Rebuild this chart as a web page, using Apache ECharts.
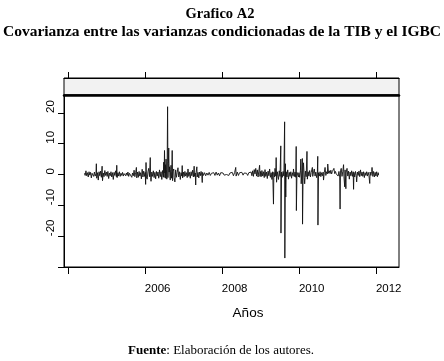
<!DOCTYPE html>
<html>
<head>
<meta charset="utf-8">
<script src="https://cdn.jsdelivr.net/npm/echarts@6/dist/echarts.min.js"></script>
<style>
  html, body { margin: 0; padding: 0; background: #fff; }
  #chart { width: 444px; height: 361px; }
</style>
</head>
<body>
<div id="chart"></div>
<script>
// covarianza condicionada TIB / IGBC (anio decimal, valor)
const datos2004 = [[2004.43,0.4],[2004.45,-0.3],[2004.47,1.2],[2004.49,-0.4],[2004.51,0.6],[2004.53,-0.8],[2004.55,0.9],[2004.57,-0.2],[2004.59,0.7],[2004.61,-1.1],[2004.63,0.4],[2004.65,1.0],[2004.67,-0.6],[2004.69,0.8],[2004.71,-0.5],[2004.73,0.3],[2004.74,3.5],[2004.75,-1.2],[2004.77,0.6],[2004.79,-1.8],[2004.81,0.9],[2004.83,-0.4],[2004.85,1.1],[2004.87,-0.9],[2004.89,2.7],[2004.90,-2.0],[2004.92,0.5],[2004.94,-0.7],[2004.96,1.3],[2004.98,-0.3]];
const datos2005 = [[2005.00,0.8],[2005.02,-0.6],[2005.04,1.0],[2005.06,-1.3],[2005.08,0.5],[2005.10,-0.4],[2005.12,0.9],[2005.14,-0.8],[2005.16,0.6],[2005.18,-1.6],[2005.20,0.7],[2005.22,-0.3],[2005.24,1.2],[2005.26,-0.7],[2005.27,3.0],[2005.28,-1.0],[2005.30,0.6],[2005.32,-0.5],[2005.34,0.9],[2005.36,-0.6],[2005.38,0.4],[2005.40,-0.3],[2005.42,0.7],[2005.44,-0.5],[2005.46,0.3],[2005.48,0.6],[2005.50,-0.4],[2005.52,0.5],[2005.54,-0.3],[2005.56,0.8],[2005.58,-0.6],[2005.60,0.4],[2005.62,-0.2],[2005.64,0.9],[2005.66,-0.9],[2005.68,0.5],[2005.70,-0.4],[2005.72,1.4],[2005.74,-0.7],[2005.76,0.6],[2005.78,2.3],[2005.79,-1.1],[2005.81,0.8],[2005.83,-0.9],[2005.85,1.0],[2005.87,-0.5],[2005.89,0.6],[2005.91,-1.4],[2005.93,1.7],[2005.95,-0.8],[2005.97,1.1],[2005.99,-0.6]];
const datos2006 = [[2006.01,0.7],[2006.02,-3.2],[2006.03,3.9],[2006.04,-0.8],[2006.06,-1.5],[2006.08,0.9],[2006.10,2.0],[2006.12,-0.7],[2006.14,5.5],[2006.15,-0.9],[2006.16,-2.2],[2006.18,0.8],[2006.20,-0.6],[2006.22,1.2],[2006.24,-1.0],[2006.26,0.7],[2006.28,-1.4],[2006.30,1.0],[2006.32,-0.5],[2006.34,0.8],[2006.36,-1.2],[2006.38,1.5],[2006.40,-0.7],[2006.42,0.9],[2006.44,-1.6],[2006.46,1.3],[2006.48,-0.8],[2006.49,4.0],[2006.50,-1.0],[2006.51,7.8],[2006.52,0.5],[2006.53,3.2],[2006.54,-1.2],[2006.55,5.0],[2006.56,1.5],[2006.57,-1.5],[2006.58,4.2],[2006.59,22.0],[2006.60,-1.0],[2006.61,3.5],[2006.62,8.6],[2006.63,0.8],[2006.64,2.5],[2006.65,-0.6],[2006.66,-1.8],[2006.67,1.6],[2006.68,3.0],[2006.69,-1.2],[2006.70,1.0],[2006.71,7.8],[2006.72,-2.0],[2006.73,0.9],[2006.75,1.8],[2006.76,-1.0],[2006.78,-2.4],[2006.80,1.5],[2006.82,-0.9],[2006.84,0.7],[2006.86,2.2],[2006.88,-0.8],[2006.90,0.9],[2006.92,-1.6],[2006.94,0.6],[2006.96,-0.5],[2006.97,2.9],[2006.98,-1.1]];
const datos2007 = [[2007.00,0.8],[2007.02,-0.7],[2007.04,1.0],[2007.06,-0.5],[2007.08,0.6],[2007.10,-1.0],[2007.12,1.8],[2007.14,-0.6],[2007.16,0.7],[2007.18,-1.2],[2007.20,0.9],[2007.22,-0.4],[2007.24,1.4],[2007.26,-0.8],[2007.28,2.7],[2007.29,-0.6],[2007.31,0.5],[2007.32,-3.4],[2007.33,0.6],[2007.35,2.5],[2007.36,-0.8],[2007.38,0.7],[2007.40,-1.1],[2007.42,0.8],[2007.44,-0.4],[2007.46,1.0],[2007.48,-0.5],[2007.49,-2.6],[2007.50,0.7],[2007.52,-0.3],[2007.55,0.6],[2007.58,-0.4],[2007.61,0.5],[2007.64,-0.2],[2007.67,0.7],[2007.70,-0.3],[2007.73,0.4],[2007.76,0.0],[2007.79,0.6],[2007.82,-0.3],[2007.85,0.8],[2007.88,-0.2],[2007.91,0.5],[2007.94,-0.4],[2007.97,0.6]];
const datos2008 = [[2008.00,0.1],[2008.03,0.5],[2008.06,-0.2],[2008.09,0.4],[2008.12,0.0],[2008.15,0.6],[2008.18,-0.3],[2008.21,0.5],[2008.24,0.1],[2008.27,0.7],[2008.30,-0.4],[2008.33,0.6],[2008.36,2.3],[2008.37,-0.5],[2008.40,0.8],[2008.43,-0.3],[2008.46,0.6],[2008.49,0.2],[2008.52,0.7],[2008.55,-0.2],[2008.58,0.5],[2008.61,0.0],[2008.64,0.4],[2008.67,-0.3],[2008.70,0.6],[2008.73,0.1],[2008.76,0.8],[2008.78,-0.4],[2008.80,1.2],[2008.82,-0.6],[2008.84,1.6],[2008.86,0.2],[2008.88,2.0],[2008.90,-0.5],[2008.92,1.5],[2008.94,-0.8],[2008.96,1.1],[2008.98,3.0],[2008.99,-0.6]];
const datos2009 = [[2009.00,1.0],[2009.02,-0.7],[2009.04,1.3],[2009.06,-0.5],[2009.08,0.9],[2009.10,-1.0],[2009.12,1.6],[2009.14,-0.6],[2009.16,0.8],[2009.18,-1.3],[2009.20,1.1],[2009.22,-0.4],[2009.24,1.8],[2009.26,-0.9],[2009.28,0.6],[2009.30,-1.6],[2009.32,0.9],[2009.34,-9.6],[2009.35,0.7],[2009.37,-0.8],[2009.38,2.0],[2009.40,-0.5],[2009.41,5.5],[2009.42,-2.5],[2009.44,0.9],[2009.46,-0.7],[2009.47,-1.6],[2009.49,1.2],[2009.51,-0.6],[2009.53,9.3],[2009.535,-19.0],[2009.55,0.8],[2009.57,-0.9],[2009.59,1.0],[2009.61,-0.5],[2009.63,17.1],[2009.635,-27.1],[2009.65,3.5],[2009.655,-4.5],[2009.66,-7.3],[2009.67,0.9],[2009.69,-0.8],[2009.71,1.5],[2009.73,-1.5],[2009.75,0.7],[2009.77,-0.6],[2009.79,0.9],[2009.81,-1.2],[2009.83,0.6],[2009.85,-0.4],[2009.86,1.8],[2009.88,-0.7],[2009.90,0.8],[2009.92,-0.9],[2009.93,9.1],[2009.935,-11.7],[2009.95,0.7],[2009.97,1.0],[2009.99,-0.8]];
const datos2010 = [[2010.00,0.6],[2010.02,-0.9],[2010.04,1.2],[2010.05,5.0],[2010.06,-3.0],[2010.08,1.4],[2010.09,5.2],[2010.095,-16.1],[2010.11,0.8],[2010.12,3.8],[2010.14,-0.9],[2010.15,-3.0],[2010.17,1.1],[2010.19,-0.7],[2010.21,7.5],[2010.22,-1.5],[2010.24,0.9],[2010.26,-0.5],[2010.28,1.3],[2010.30,-0.8],[2010.32,0.7],[2010.35,2.3],[2010.36,-0.6],[2010.38,0.9],[2010.40,1.8],[2010.42,-0.5],[2010.44,0.8],[2010.46,-1.0],[2010.48,0.7],[2010.49,5.9],[2010.495,-16.4],[2010.51,0.6],[2010.53,-0.5],[2010.55,0.9],[2010.57,-0.7],[2010.59,0.6],[2010.61,-0.4],[2010.63,0.8],[2010.64,-1.8],[2010.66,0.7],[2010.68,2.3],[2010.70,-0.3],[2010.72,0.9],[2010.74,0.2],[2010.75,3.4],[2010.77,0.4],[2010.79,1.2],[2010.81,0.3],[2010.83,1.4],[2010.85,0.2],[2010.87,1.0],[2010.89,0.4],[2010.91,2.0],[2010.93,0.3],[2010.95,1.0],[2010.97,0.2],[2010.99,0.8]];
const datos2011 = [[2011.00,0.7],[2011.02,-0.5],[2011.04,1.0],[2011.06,-0.8],[2011.07,-11.2],[2011.08,1.2],[2011.10,2.0],[2011.12,-0.6],[2011.14,1.0],[2011.16,3.2],[2011.17,-0.7],[2011.19,-4.0],[2011.20,1.5],[2011.22,-4.6],[2011.23,0.8],[2011.25,2.0],[2011.27,-0.5],[2011.29,1.1],[2011.31,-1.5],[2011.33,0.8],[2011.35,-0.4],[2011.37,1.2],[2011.39,-0.6],[2011.41,0.9],[2011.42,-4.8],[2011.43,0.7],[2011.45,-0.8],[2011.47,1.0],[2011.49,-0.4],[2011.50,-2.4],[2011.52,0.8],[2011.54,-0.3],[2011.56,1.1],[2011.58,-0.7],[2011.60,1.5],[2011.62,-0.4],[2011.64,0.8],[2011.66,-0.6],[2011.68,0.9],[2011.70,-1.0],[2011.72,0.6],[2011.74,-0.3],[2011.76,0.9],[2011.78,-0.5],[2011.80,0.7],[2011.82,-0.4],[2011.84,-2.9],[2011.85,0.8],[2011.87,-0.3],[2011.89,1.0],[2011.90,2.3],[2011.92,-0.6],[2011.94,1.0],[2011.96,-0.8],[2011.98,0.7]];
const datos2012 = [[2012.00,-0.5],[2012.02,0.9],[2012.04,-0.7],[2012.06,0.6],[2012.07,-0.2]];

const xTicks = [2004, 2006, 2008, 2010, 2012];
const xLabels = [2006, 2008, 2010, 2012];
const yTicks = [-30, -20, -10, 0, 10, 20];
const yLabels = [-20, -10, 0, 10, 20];

const serie = [].concat(datos2004, datos2005, datos2006, datos2007, datos2008, datos2009, datos2010, datos2011, datos2012);

const X_MIN = 2003.9;
const X_MAX = 2012.6;
const sans = "Liberation Sans";
const serif = "Liberation Serif";

const myChart = echarts.init(document.getElementById("chart"), null, { renderer: "canvas" });

const option = {
  animation: false,
  backgroundColor: "#fff",
  grid: [
    // franja gris (strip) de lattice
    { left: 64, right: 45, top: 78, height: 17, show: true, backgroundColor: "#f2f2f2", borderColor: "#000", borderWidth: 1 },
    { left: 64, right: 45, top: 95, bottom: 94, show: true, borderColor: "#000", borderWidth: 1 }
  ],
  xAxis: [
    {
      gridIndex: 0, type: "value", position: "top", min: X_MIN, max: X_MAX,
      axisLine: { show: true, onZero: false, lineStyle: { color: "#000", width: 1 } },
      axisTick: { show: true, inside: false, length: 6, customValues: xTicks, lineStyle: { color: "#000" } },
      axisLabel: { show: false },
      splitLine: { show: false }
    },
    {
      gridIndex: 1, type: "value", position: "bottom", min: X_MIN, max: X_MAX,
      axisLine: { show: true, onZero: false, lineStyle: { color: "#000", width: 1 } },
      axisTick: { show: true, inside: false, length: 7, customValues: xTicks, lineStyle: { color: "#000" } },
      axisLabel: {
        customValues: xLabels, align: "left", margin: 16,
        fontFamily: sans, fontSize: 11.5, color: "#000",
        formatter: (v) => String(v)
      },
      splitLine: { show: false }
    },
    {
      gridIndex: 1, type: "value", position: "top", min: X_MIN, max: X_MAX,
      axisLine: { show: true, onZero: false, lineStyle: { color: "#000", width: 2.5 } },
      axisTick: { show: false },
      axisLabel: { show: false },
      splitLine: { show: false }
    }
  ],
  yAxis: [
    { gridIndex: 0, type: "value", show: false, min: 0, max: 1 },
    {
      gridIndex: 1, type: "value", min: -30, max: 25.8,
      axisLine: { show: true, onZero: false, lineStyle: { color: "#000", width: 1 } },
      axisTick: { show: true, inside: false, length: 6, customValues: yTicks, lineStyle: { color: "#000" } },
      axisLabel: {
        customValues: yLabels, rotate: 90, align: "left", verticalAlign: "middle", margin: 13,
        fontFamily: sans, fontSize: 11.5, color: "#000"
      },
      splitLine: { show: false }
    }
  ],
  series: [
    {
      name: "Covarianza",
      type: "line",
      xAxisIndex: 1,
      yAxisIndex: 1,
      data: serie,
      showSymbol: false,
      lineStyle: { color: "#111", width: 0.9 },
      clip: true
    }
  ],
  graphic: [
    {
      type: "text", x: 220, y: 14,
      style: { text: "Grafico A2", font: `bold 14.5px "${serif}"`, fill: "#000", align: "center", verticalAlign: "middle" }
    },
    {
      type: "text", x: 222, y: 32,
      style: { text: "Covarianza entre las varianzas condicionadas de la TIB y el IGBC", font: `bold 15.5px "${serif}"`, fill: "#000", align: "center", verticalAlign: "middle" }
    },
    {
      type: "text", x: 248, y: 313,
      style: { text: "Años", font: `13.5px "${sans}"`, fill: "#000", align: "center", verticalAlign: "middle" }
    },
    {
      type: "text", x: 221, y: 351,
      style: {
        text: "{b|Fuente}: Elaboración de los autores.",
        font: `13px "${serif}"`, fill: "#000", align: "center", verticalAlign: "middle",
        rich: { b: { fontFamily: serif, fontSize: 13, fontWeight: "bold", fill: "#000" } }
      }
    }
  ]
};

myChart.setOption(option);

window.onresize = function () {
  myChart.resize();
};
</script>
</body>
</html>
